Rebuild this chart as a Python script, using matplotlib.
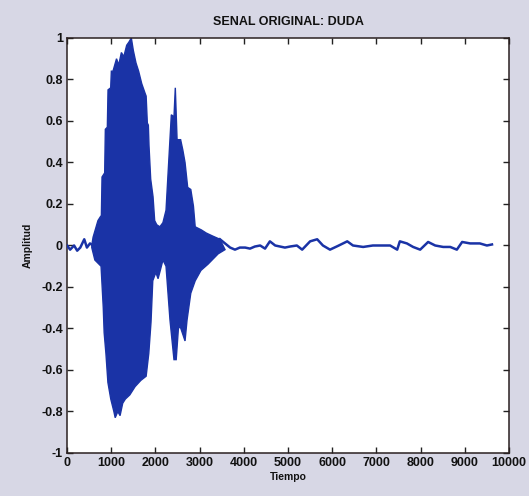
import numpy as np
import matplotlib
matplotlib.use("Agg")
import matplotlib.pyplot as plt

plt.rcParams['axes.unicode_minus'] = False

# --- signal data (sample index, amplitude) ---
# quiet lead-in before the word starts
pre_t = [0, 70, 160, 230, 300, 390, 450, 520, 590]
pre_a = [0.0, -0.02, 0.0, -0.025, -0.01, 0.03, -0.01, 0.01, 0.0]

# upper envelope of the voiced part
hi_t = [560, 590, 700, 760, 777, 792, 852, 867, 912, 928, 988, 1003, 1040, 1120,
        1170, 1230, 1285, 1350, 1400, 1455, 1500, 1560, 1620, 1690, 1772, 1790,
        1817, 1840, 1855, 1893, 1946, 1983, 2030, 2100, 2170, 2240, 2300, 2360,
        2420, 2450, 2490, 2570, 2620, 2670, 2730, 2800, 2860, 2900, 3040, 3150,
        3300, 3460]
hi_a = [0.00, 0.04, 0.12, 0.14, 0.14, 0.33, 0.35, 0.56, 0.57, 0.75, 0.76, 0.84,
        0.84, 0.90, 0.87, 0.93, 0.91, 0.965, 0.98, 1.00, 0.94, 0.88, 0.84, 0.78,
        0.73, 0.72, 0.59, 0.58, 0.48, 0.32, 0.235, 0.12, 0.10, 0.09, 0.11, 0.17,
        0.40, 0.63, 0.62, 0.76, 0.51, 0.51, 0.46, 0.40, 0.28, 0.27, 0.19, 0.09,
        0.075, 0.06, 0.045, 0.03]

# lower envelope of the voiced part
lo_t = [560, 630, 770, 820, 840, 880, 925, 990, 1060, 1090, 1150, 1200, 1260,
        1320, 1420, 1540, 1670, 1790, 1850, 1900, 1940, 2010, 2060, 2110, 2170,
        2240, 2330, 2420, 2470, 2520, 2560, 2670, 2715, 2800, 2900, 3030, 3190,
        3420, 3575]
lo_a = [-0.01, -0.07, -0.10, -0.30, -0.42, -0.52, -0.66, -0.74, -0.80, -0.83,
        -0.80, -0.82, -0.76, -0.74, -0.72, -0.68, -0.65, -0.63, -0.52, -0.37,
        -0.17, -0.13, -0.16, -0.12, -0.07, -0.10, -0.36, -0.55, -0.55, -0.40,
        -0.39, -0.46, -0.36, -0.23, -0.17, -0.12, -0.09, -0.04, -0.02]

# low-level tail after the word
tail_t = [3460, 3575, 3690, 3800, 3910, 4030, 4140, 4250, 4370, 4480, 4590, 4710,
          4820, 4930, 5045, 5200, 5320, 5500, 5660, 5790, 5950, 6130, 6340, 6470,
          6700, 6920, 7080, 7310, 7470, 7530, 7690, 7830, 7990, 8170, 8330, 8510,
          8670, 8820, 8940, 9120, 9340, 9500, 9615]
tail_a = [0.03, 0.01, -0.01, -0.02, -0.01, -0.01, -0.015, -0.005, 0.0, -0.015,
          0.02, 0.0, -0.005, -0.01, -0.005, 0.0, -0.02, 0.02, 0.03, 0.0, -0.02,
          -0.002, 0.02, 0.0, -0.007, 0.0, 0.0, 0.0, -0.02, 0.02, 0.01, -0.007,
          -0.02, 0.017, 0.0, -0.007, -0.007, -0.02, 0.017, 0.01, 0.01, 0.0, 0.005]

x_ticks = [0, 1000, 2000, 3000, 4000, 5000, 6000, 7000, 8000, 9000, 10000]
x_tick_labels = ['0', '1000', '2000', '3000', '4000', '5000', '6000', '7000',
                 '8000', '9000', '10000']
y_ticks = [-1, -0.8, -0.6, -0.4, -0.2, 0, 0.2, 0.4, 0.6, 0.8, 1]
y_tick_labels = ['-1', '-0.8', '-0.6', '-0.4', '-0.2', '0', '0.2', '0.4', '0.6',
                 '0.8', '1']

BLUE = '#1a33a6'
FONT = ['Liberation Sans', 'DejaVu Sans']

fig = plt.figure(figsize=(5.29, 4.96), dpi=100, facecolor='#d7d7e5')
ax = fig.add_axes([0.1267, 0.0867, 0.8355, 0.8367])
ax.set_facecolor('white')

# dense oscillation drawn as the region between its envelopes
poly_t = np.concatenate([hi_t, lo_t[::-1]])
poly_a = np.concatenate([hi_a, lo_a[::-1]])
ax.fill(poly_t, poly_a, color=BLUE, lw=1.0, zorder=2)

ax.plot(pre_t, pre_a, color=BLUE, lw=1.8, zorder=3)
ax.plot(tail_t, tail_a, color=BLUE, lw=1.8, zorder=3)

ax.set_xlim(0, 10000)
ax.set_ylim(-1, 1)
ax.set_xticks(x_ticks)
ax.set_xticklabels(x_tick_labels)
ax.set_yticks(y_ticks)
ax.set_yticklabels(y_tick_labels)
ax.tick_params(direction='in', length=4, width=1, top=True, right=True,
               colors='#222222', pad=3)
for lab in ax.get_xticklabels() + ax.get_yticklabels():
    lab.set_family(FONT)
    lab.set_fontweight('bold')
    lab.set_fontsize(9)
    lab.set_color('#111111')
for sp in ax.spines.values():
    sp.set_color('#2a2020')
    sp.set_linewidth(1.1)

ax.set_title('SENAL ORIGINAL: DUDA', family=FONT, fontweight='bold',
             fontsize=9, pad=9, color='#111111')
ax.set_xlabel('Tiempo', family=FONT, fontweight='bold', fontsize=7.5,
              labelpad=2, color='#111111')
ax.set_ylabel('Amplitud', family=FONT, fontweight='bold', fontsize=7.5,
              labelpad=6, color='#111111')

fig.savefig('out.png', dpi=100, facecolor=fig.get_facecolor())
